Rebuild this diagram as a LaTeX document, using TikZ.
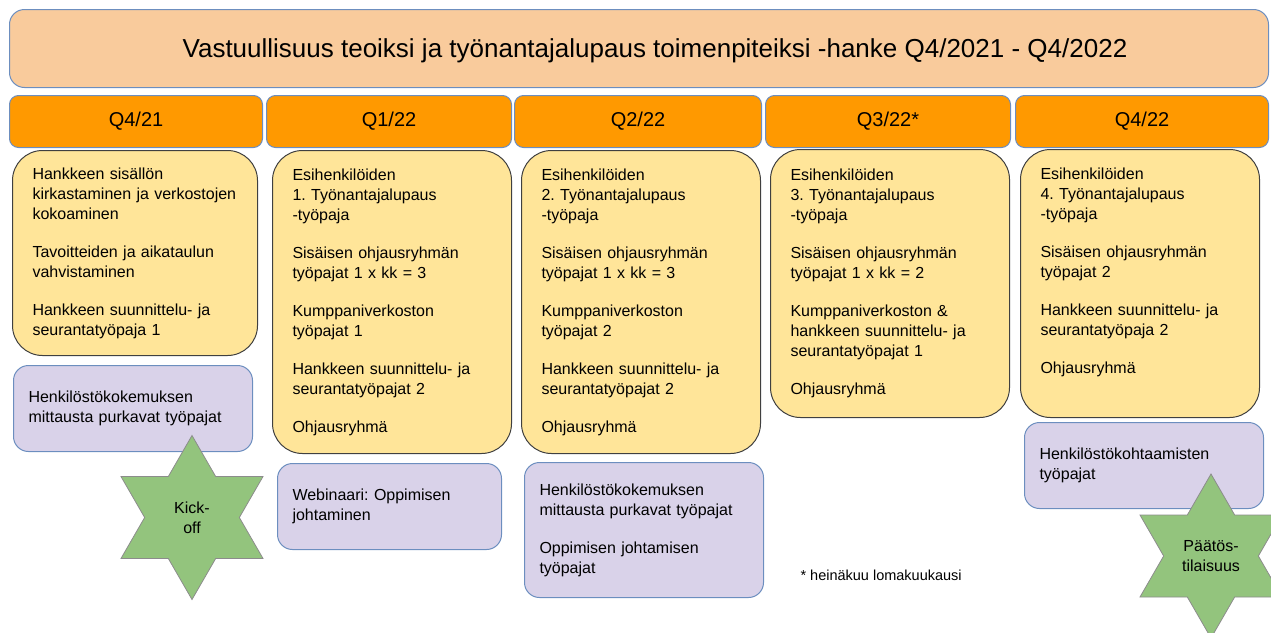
\documentclass[tikz,border=0pt]{standalone}
\usepackage{fontspec}
\setmainfont{Liberation Sans}
\usetikzlibrary{shapes.geometric}
\definecolor{peach}{HTML}{F9CB9C}
\definecolor{quarterorange}{HTML}{FF9900}
\definecolor{planyellow}{HTML}{FFE599}
\definecolor{lilac}{HTML}{D9D2E9}
\definecolor{edgeblue}{HTML}{6C8EBF}
\definecolor{stargreen}{HTML}{93C47D}
\newcommand{\bodysize}{\fontsize{16}{20}\selectfont}
\frenchspacing

\begin{document}
\begin{tikzpicture}[
    x=1pt, y=-1pt,
    banner/.style={rectangle, rounded corners=15pt, draw=edgeblue, line width=1pt, fill=peach, anchor=north west, minimum width=1259pt, minimum height=78pt},
    quarter/.style={rectangle, rounded corners=9pt, draw=edgeblue, line width=1pt, fill=quarterorange, anchor=north west, minimum height=52pt, font=\fontsize{20}{24}\selectfont},
    plan/.style={rectangle, rounded corners=30pt, draw=black!75, line width=1pt, fill=planyellow, anchor=north west, align=left, inner xsep=20pt, font=\bodysize},
    extra/.style={rectangle, rounded corners=15pt, draw=edgeblue, line width=1pt, fill=lilac, anchor=north west, align=left, inner xsep=15pt, font=\bodysize},
    milestone/.style={star, star points=6, star point ratio=1.732, draw=black!45, line width=0.8pt, fill=stargreen, minimum size=164pt, inner sep=0pt, align=center, font=\bodysize}
]
\useasboundingbox (0,0) rectangle (1271,632);
\clip (0,0) rectangle (1271,632);

% Title
\node[banner] (banner) at (9,9) {};
\node[anchor=base, font=\fontsize{26}{30}\selectfont] (bannertitle) at (655,57) {Vastuullisuus teoiksi ja työnantajalupaus toimenpiteiksi -hanke Q4/2021 - Q4/2022};

% Quarters
\node[quarter, minimum width=253pt] (q421) at (9,95) {Q4/21};
\node[quarter, minimum width=245pt] (q122) at (266,95) {Q1/22};
\node[quarter, minimum width=247pt] (q222) at (514,95) {Q2/22};
\node[quarter, minimum width=245pt] (q322) at (765,95) {Q3/22*};
\node[quarter, minimum width=253pt] (q422) at (1015,95) {Q4/22};

% Workshops per quarter
\node[plan, text width=205pt, minimum height=205pt] (planA) at (12,150) {Hankkeen sisällön\\kirkastaminen ja verkostojen\\kokoaminen\\[18pt]Tavoitteiden ja aikataulun\\vahvistaminen\\[18pt]Hankkeen suunnittelu- ja\\seurantatyöpaja 1};
\node[plan, text width=199pt, minimum height=303pt] (planB) at (272,150) {Esihenkilöiden\\1. Työnantajalupaus\\-työpaja\\[18pt]Sisäisen ohjausryhmän\\työpajat 1 x kk = 3\\[18pt]Kumppaniverkoston\\työpajat 1\\[18pt]Hankkeen suunnittelu- ja\\seurantatyöpajat 2\\[18pt]Ohjausryhmä};
\node[plan, text width=199pt, minimum height=303pt] (planC) at (521,150) {Esihenkilöiden\\2. Työnantajalupaus\\-työpaja\\[18pt]Sisäisen ohjausryhmän\\työpajat 1 x kk = 3\\[18pt]Kumppaniverkoston\\työpajat 2\\[18pt]Hankkeen suunnittelu- ja\\seurantatyöpajat 2\\[18pt]Ohjausryhmä};
\node[plan, text width=199pt, minimum height=268pt] (planD) at (770,149) {Esihenkilöiden\\3. Työnantajalupaus\\-työpaja\\[18pt]Sisäisen ohjausryhmän\\työpajat 1 x kk = 2\\[18pt]Kumppaniverkoston \&\\hankkeen suunnittelu- ja\\seurantatyöpajat 1\\[18pt]Ohjausryhmä};
\node[plan, text width=199pt, minimum height=268pt] (planE) at (1020,149) {Esihenkilöiden\\4. Työnantajalupaus\\-työpaja\\[18pt]Sisäisen ohjausryhmän\\työpajat 2\\[18pt]Hankkeen suunnittelu- ja\\seurantatyöpaja 2\\[18pt]Ohjausryhmä\\[6pt]\mbox{}};

% Extra workshops
\node[extra, text width=209pt, minimum height=86pt] (extraA) at (13,365) {Henkilöstökokemuksen\\mittausta purkavat työpajat};
\node[extra, text width=194pt, minimum height=86pt] (extraB) at (277,463) {Webinaari: Oppimisen\\johtaminen};
\node[extra, text width=209pt, minimum height=135pt] (extraC) at (524,462) {Henkilöstökokemuksen\\mittausta purkavat työpajat\\[18pt]Oppimisen johtamisen\\työpajat};
\node[extra, text width=209pt, minimum height=86pt] (extraE) at (1024,422) {Henkilöstökohtaamisten\\työpajat};

% Milestones
\node[milestone] (kickoff) at (192,517.5) {Kick-\\off};
\node[milestone] (decision) at (1211,556) {Päätös-\\tilaisuus};

\node[anchor=base west, font=\fontsize{14.5}{17}\selectfont] (footnote) at (797,580) {* heinäkuu lomakuukausi};
\end{tikzpicture}
\end{document}
